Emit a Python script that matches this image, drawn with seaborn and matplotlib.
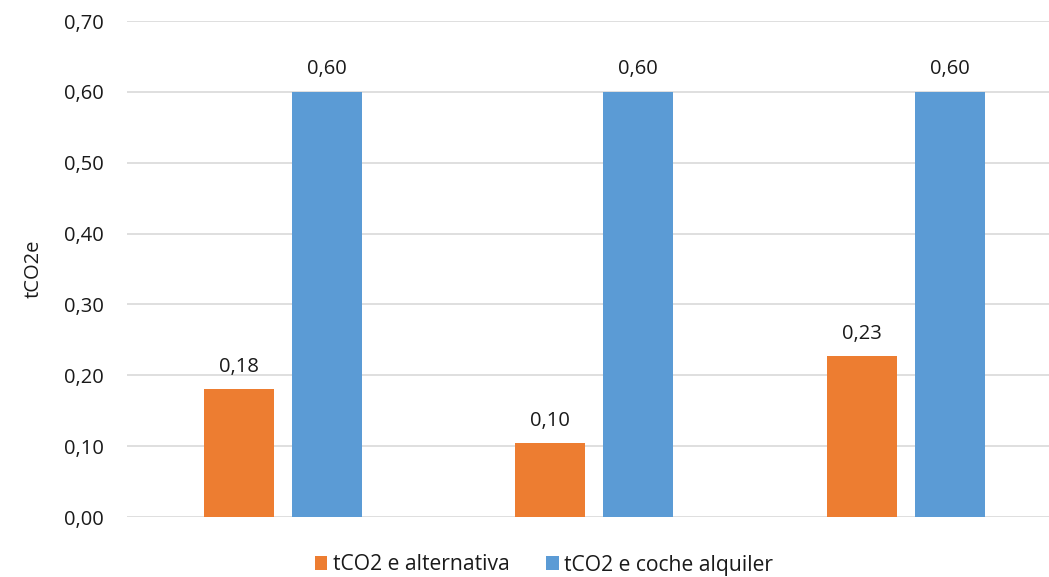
import matplotlib
matplotlib.use("Agg")
import matplotlib.pyplot as plt
import seaborn as sns
import pandas as pd
from matplotlib.ticker import FuncFormatter

categories = ["Opción 1", "Opción 2", "Opción 3"]
series_names = ["tCO2 e alternativa", "tCO2 e coche alquiler"]
alternativa = [0.18, 0.104, 0.227]
coche_alquiler = [0.60, 0.60, 0.60]
y_ticks = [0.0, 0.1, 0.2, 0.3, 0.4, 0.5, 0.6, 0.7]

df = pd.DataFrame({
    "categoria": categories * 2,
    "serie": [series_names[0]] * 3 + [series_names[1]] * 3,
    "valor": alternativa + coche_alquiler,
})

sns.set_theme(style="white")
plt.rcParams["font.family"] = ["Open Sans", "DejaVu Sans"]

fs = 14.5
tc = "#1a1a1a"

fig = plt.figure(figsize=(10.49, 5.77), dpi=100)
ax = fig.add_axes([127 / 1049, 1 - 517 / 577, (1049 - 127) / 1049, (517 - 21) / 577])

palette = {series_names[0]: "#ED7D31", series_names[1]: "#5B9BD5"}
sns.barplot(data=df, x="categoria", y="valor", hue="serie", palette=palette,
            width=0.565, gap=0.205, ax=ax, saturation=1, legend=True, errorbar=None,
            linewidth=0)

ax.set_ylim(0, 0.70)
ax.set_xlim(-0.5, -0.5 + 922 / 311.5)
ax.set_yticks(y_ticks)
ax.yaxis.set_major_formatter(FuncFormatter(lambda v, p: f"{v:.2f}".replace(".", ",")))
ax.yaxis.grid(True, color="#D9D9D9", linewidth=1.2)
ax.set_axisbelow(True)
for s in ax.spines.values():
    s.set_visible(False)
ax.tick_params(axis="y", length=0, pad=17, labelsize=fs, labelcolor=tc)
ax.set_xticks(range(len(categories)))
ax.set_xticklabels([])
ax.tick_params(axis="x", length=0)
ax.set_xlabel("")
ax.set_ylabel("tCO2e", fontsize=fs, color=tc, labelpad=14)

for cont in ax.containers:
    ax.bar_label(cont, labels=[f"{b.get_height():.2f}".replace(".", ",") for b in cont],
                 padding=9, fontsize=fs, color=tc)

handles, labels = ax.get_legend_handles_labels()
ax.get_legend().remove()
fig.legend(handles, labels, loc="center", bbox_to_anchor=(544 / 1049, 1 - 565 / 577),
           ncol=2, frameon=False, fontsize=15.2, handlelength=0.6, handleheight=0.6,
           handletextpad=0.25, columnspacing=1.75, labelcolor=tc, borderpad=0)

fig.savefig("out.png", dpi=100)
